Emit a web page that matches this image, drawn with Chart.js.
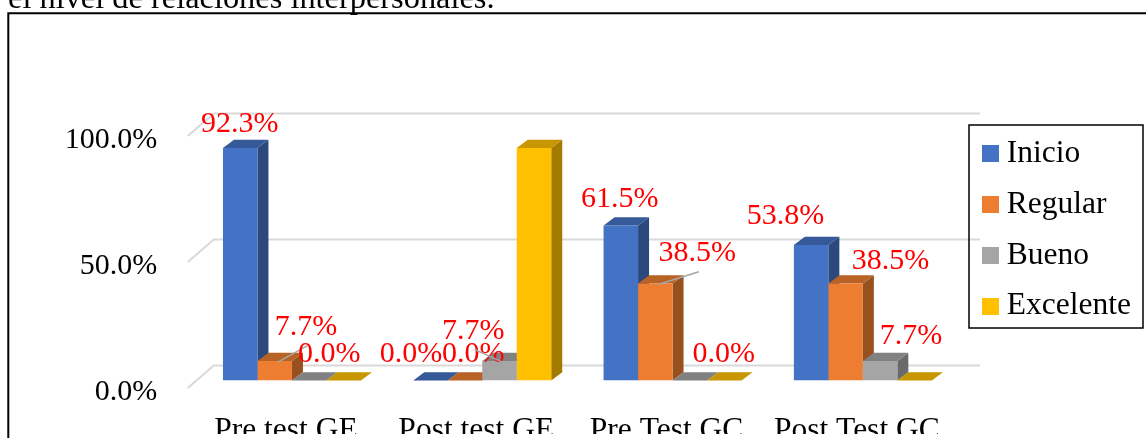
<!DOCTYPE html>
<html>
<head>
<meta charset="utf-8">
<script src="https://cdn.jsdelivr.net/npm/chart.js@4.4.1/dist/chart.umd.min.js"></script>
<style>
html, body { margin: 0; padding: 0; background: #fff; }
canvas { display: block; }
</style>
</head>
<body>
<canvas id="c" width="1146" height="438"></canvas>
<script>
// ---- data ----
const categories = ['Pre test GE', 'Post test GE', 'Pre Test GC', 'Post Test GC'];
const seriesNames = ['Inicio', 'Regular', 'Bueno', 'Excelente'];
const inicio    = [92.3, 0.0, 61.5, 53.8];
const regular   = [7.7, 0.0, 38.5, 38.5];
const bueno     = [0.0, 7.7, 0.0, 7.7];
const excelente = [0.0, 92.3, 0.0, 0.0];
const yTicks = [0, 50, 100];
const captionText = 'el nivel de relaciones interpersonales.';

// ---- styles ----
const colors = ['#4472C4', '#ED7D31', '#A5A5A5', '#FFC000'];
const FONT = "'Liberation Serif', 'Times New Roman', serif";
const DX = 11, DY = -8.3;            // bar depth
const labelOffsets = [               // data label centre relative to bar top-centre
  [[-0.5, -26.6], [-19.5, -28.7], [-1, -29], [-25.5, -31]],
  [[31.4, -36.5], [8.2, -28.7], [42, -32.7], [45, -25]],
  [[20, -28.7], [-26.3, -32.6], [34, -28.7], [31, -27]],
  null
];
const leaderLines = [[0,0,0,0],[1,0,1,0],[0,1,0,0],[0,0,0,0]];

function shade(hex, f) {
  const n = parseInt(hex.slice(1), 16);
  const r = (n >> 16) & 255, g = (n >> 8) & 255, b = n & 255;
  return `rgb(${Math.round(r*f)},${Math.round(g*f)},${Math.round(b*f)})`;
}
function swatch(c) {
  const cv = document.createElement('canvas');
  cv.width = 17; cv.height = 17;
  const x = cv.getContext('2d');
  x.fillStyle = c; x.fillRect(0, 0, 17, 17);
  return cv;
}
const swatches = colors.map(swatch);

const excelPlugin = {
  id: 'excel3d',
  afterLayout(chart) {
    const L = chart.legend, a = chart.chartArea;
    if (!L) return;
    L.left = a.right + 12.8; L.width = 180; L.right = L.left + 180;
    L.top = a.top - 9.6; L.height = 300; L.bottom = L.top + 300;
  },
  beforeDraw(chart) {
    const ctx = chart.ctx;
    ctx.save();
    ctx.fillStyle = '#000';
    ctx.font = `32.4px ${FONT}`;
    ctx.textBaseline = 'alphabetic';
    ctx.textAlign = 'left';
    ctx.fillText(captionText, 8, 8.3);
    ctx.strokeStyle = '#000';
    ctx.lineWidth = 2;
    ctx.beginPath();
    ctx.moveTo(8.3, chart.height);
    ctx.lineTo(8.3, 13.2);
    ctx.lineTo(chart.width, 13.2);
    ctx.stroke();
    ctx.restore();
  },
  beforeDatasetsDraw(chart) {
    const ctx = chart.ctx, a = chart.chartArea, ys = chart.scales.y;
    ctx.save();
    ctx.strokeStyle = '#D9D9D9';
    ctx.lineWidth = 2;
    yTicks.forEach(v => {
      const y = ys.getPixelForValue(v);
      ctx.beginPath();
      ctx.moveTo(a.left - 9, y + 7.5);
      ctx.lineTo(a.left + 17, y - 15);
      ctx.lineTo(a.right + 22, y - 15);
      ctx.stroke();
    });
    const bars = [];
    chart.data.datasets.forEach((ds, i) => {
      chart.getDatasetMeta(i).data.forEach(el => bars.push({ el, color: colors[i] }));
    });
    bars.sort((p, q) => p.el.x - q.el.x);
    bars.forEach(({ el, color }) => {
      const x0 = el.x - el.width / 2, x1 = el.x + el.width / 2, yt = el.y, yb = el.base;
      ctx.fillStyle = shade(color, 0.64);
      ctx.beginPath();
      ctx.moveTo(x1, yt); ctx.lineTo(x1 + DX, yt + DY); ctx.lineTo(x1 + DX, yb + DY); ctx.lineTo(x1, yb);
      ctx.closePath(); ctx.fill();
      ctx.fillStyle = shade(color, 0.78);
      ctx.beginPath();
      ctx.moveTo(x0, yt); ctx.lineTo(x1, yt); ctx.lineTo(x1 + DX, yt + DY); ctx.lineTo(x0 + DX, yt + DY);
      ctx.closePath(); ctx.fill();
    });
    ctx.restore();
  },
  afterDatasetsDraw(chart) {
    const ctx = chart.ctx;
    ctx.save();
    ctx.font = `30px ${FONT}`;
    ctx.textAlign = 'center';
    ctx.textBaseline = 'alphabetic';
    chart.data.datasets.forEach((ds, i) => {
      const offs = labelOffsets[i];
      if (!offs) return;
      chart.getDatasetMeta(i).data.forEach((el, j) => {
        const lx = el.x + offs[j][0], ly = el.y + offs[j][1];
        if (leaderLines[i][j]) {
          ctx.strokeStyle = '#A6A6A6';
          ctx.lineWidth = 1.5;
          ctx.beginPath();
          ctx.moveTo(el.x + 3, el.y + 1);
          ctx.lineTo(lx + 1.5, ly + 21);
          ctx.stroke();
        }
        ctx.fillStyle = '#FF0000';
        ctx.fillText(ds.data[j].toFixed(1) + '%', lx, ly + 10.2);
      });
    });
    ctx.restore();
  },
  afterDraw(chart) {
    const a = chart.chartArea, ctx = chart.ctx;
    ctx.save();
    ctx.strokeStyle = '#000';
    ctx.lineWidth = 1.5;
    ctx.strokeRect(a.right + 11, a.top - 3.6, 174, 203);
    ctx.restore();
  }
};

const seriesData = [inicio, regular, bueno, excelente];
new Chart(document.getElementById('c'), {
  type: 'bar',
  data: {
    labels: categories,
    datasets: seriesData.map((d, i) => ({
      label: seriesNames[i],
      data: d,
      backgroundColor: colors[i],
      borderWidth: 0,
      barPercentage: 1,
      categoryPercentage: 0.725
    }))
  },
  options: {
    responsive: false,
    animation: false,
    layout: { padding: { left: 0, top: 128.6, right: 188, bottom: 0 } },
    plugins: {
      tooltip: { enabled: false },
      legend: {
        position: 'chartArea',
        align: 'start',
        labels: {
          font: { family: FONT, size: 31.5 },
          color: '#000',
          padding: 19.2,
          usePointStyle: true,
          pointStyleWidth: 1,
          boxHeight: 17,
          generateLabels(chart) {
            const items = Chart.defaults.plugins.legend.labels.generateLabels(chart);
            items.forEach((it, i) => { it.pointStyle = swatches[i]; });
            return items;
          }
        }
      }
    },
    scales: {
      x: {
        grid: { display: false, drawTicks: false, tickLength: 0 },
        border: { display: false },
        ticks: { font: { family: FONT, size: 31.5 }, color: '#000', padding: 31, labelOffset: -6, maxRotation: 0, autoSkip: false },
        afterFit(s) { s.height = 53.5; }
      },
      y: {
        min: 0, max: 100,
        grid: { display: false, drawTicks: false, tickLength: 0 },
        border: { display: false },
        ticks: {
          stepSize: 50,
          font: { family: FONT, size: 30 },
          color: '#000',
          padding: 39.5,
          labelOffset: 11.3,
          callback: v => v.toFixed(1) + '%'
        },
        afterFit(s) { s.width = 196.8; }
      }
    }
  },
  plugins: [excelPlugin]
});
</script>
</body>
</html>
